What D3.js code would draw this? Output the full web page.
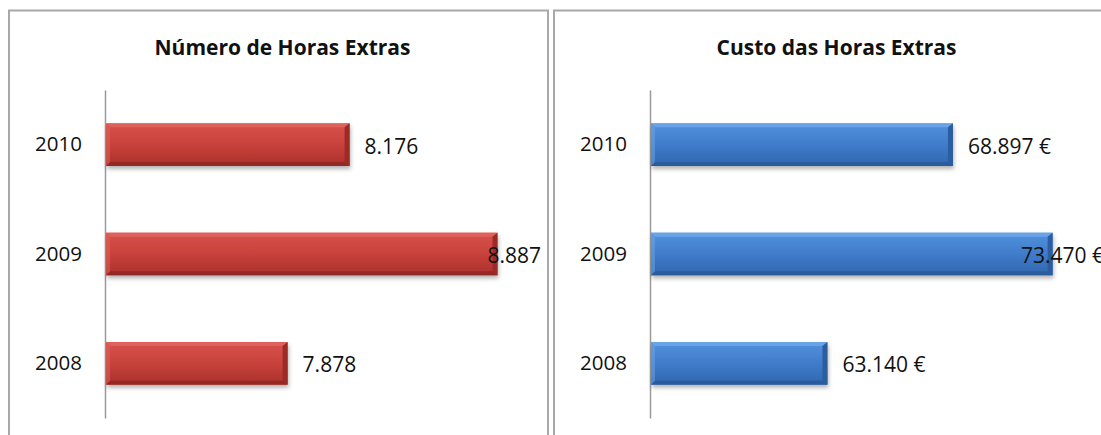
<!DOCTYPE html>
<html><head><meta charset="utf-8">
<script src="https://cdn.jsdelivr.net/npm/d3@7"></script>
<style>
html,body{margin:0;padding:0;background:#fff;}
svg{display:block;}
text{font-family:"Open Sans","Noto Sans",sans-serif;fill:#111;}
</style></head>
<body>
<svg id="chart" width="1101" height="435"></svg>
<script>
// ---- data ----
const years = ["2010", "2009", "2008"];
const hoursValues = [8176, 8887, 7878];
const hoursLabels = ["8.176", "8.887", "7.878"];
const costValues = [68897, 73470, 63140];
const costLabels = ["68.897 €", "73.470 €", "63.140 €"];
const titles = ["Número de Horas Extras", "Custo das Horas Extras"];
const hoursDomain = [7000, 9000];
const costDomain = [55000, 75000];

const svg = d3.select("#chart");
svg.append("rect").attr("width", 1101).attr("height", 435).attr("fill", "#fff");

const defs = svg.append("defs");
const f = defs.append("filter").attr("id", "shadow").attr("x", "-5%").attr("y", "-20%").attr("width", "112%").attr("height", "160%");
f.append("feDropShadow").attr("dx", 1).attr("dy", 3).attr("stdDeviation", 2).attr("flood-color", "#000").attr("flood-opacity", 0.3);

function grad(id, stops) {
  const g = defs.append("linearGradient").attr("id", id).attr("x1", 0).attr("y1", 0).attr("x2", 0).attr("y2", 1);
  stops.forEach(s => g.append("stop").attr("offset", s[0]).attr("stop-color", s[1]));
}
grad("gRed", [[0, "#d8524c"], [0.5, "#c8423c"], [1, "#aa302b"]]);
grad("gBlue", [[0, "#5391dc"], [0.5, "#3f7ccb"], [1, "#2f66ad"]]);

const panels = [
  {left: 9, right: 548, axisX: 105, axisEnd: 521, values: hoursValues, labels: hoursLabels, domain: hoursDomain,
   title: titles[0], fill: "url(#gRed)", light: "#e0645e", dark: "#8f2522", side: "#9c2a26"},
  {left: 554, right: 1111, axisX: 650, axisEnd: 1086, values: costValues, labels: costLabels, domain: costDomain,
   title: titles[1], fill: "url(#gBlue)", light: "#6ea6ea", dark: "#285896", side: "#2c5e9f"}
];

panels.forEach(p => {
  const g = svg.append("g");
  g.append("rect").attr("x", p.left).attr("y", 10.5).attr("width", p.right - p.left).attr("height", 440)
    .attr("fill", "none").attr("stroke", "#a8a8a8").attr("stroke-width", 2);

  const x = d3.scaleLinear().domain(p.domain).range([p.axisX, p.axisEnd]);
  const y = d3.scaleBand().domain(years).range([90, 418]).paddingInner(0.61).paddingOuter(0.305);

  g.append("text").attr("x", (p.left + p.right) / 2 + 4).attr("y", 47).attr("text-anchor", "middle")
    .attr("dominant-baseline", "central").attr("font-weight", "bold").attr("font-size", 21)
    .text(p.title);

  const ax = g.append("g").attr("transform", `translate(${p.axisX},0)`)
    .call(d3.axisLeft(y).tickSize(0).tickPadding(23));
  ax.select(".domain").attr("stroke", "#9a9a9a").attr("stroke-width", 1.5);
  ax.selectAll("text").attr("font-size", 20.5).attr("fill", "#111")
    .style("font-family", '"Open Sans","Noto Sans",sans-serif');

  const data = years.map((yr, i) => ({yr, v: p.values[i], lab: p.labels[i]}));
  const bars = g.selectAll("g.bar").data(data).join("g").attr("class", "bar");
  bars.each(function(d) {
    const b = d3.select(this);
    const x0 = x(p.domain[0]) + 1, x1 = x(d.v), y0 = y(d.yr), y1 = y(d.yr) + y.bandwidth();
    const bv = 5;
    b.append("rect").attr("x", x0).attr("y", y0).attr("width", x1 - x0).attr("height", y1 - y0)
      .attr("fill", p.fill).attr("filter", "url(#shadow)");
    b.append("polygon").attr("points", [[x0, y0], [x1, y0], [x1 - bv, y0 + 4], [x0 + 4, y0 + 4]].join(" "))
      .attr("fill", p.light).attr("opacity", 0.85);
    b.append("polygon").attr("points", [[x0, y1], [x1, y1], [x1 - bv, y1 - 4], [x0 + 4, y1 - 4]].join(" "))
      .attr("fill", p.dark).attr("opacity", 0.8);
    b.append("polygon").attr("points", [[x1, y0], [x1, y1], [x1 - bv, y1 - 4], [x1 - bv, y0 + 4]].join(" "))
      .attr("fill", p.side);
    b.append("polygon").attr("points", [[x0, y0], [x0, y1], [x0 + 4, y1 - 4], [x0 + 4, y0 + 4]].join(" "))
      .attr("fill", p.light).attr("opacity", 0.5);
    const t = b.append("text").attr("y", (y0 + y1) / 2 + 1).attr("dominant-baseline", "central")
      .attr("font-size", 21).text(d.lab);
    const w = t.node().getComputedTextLength();
    t.attr("x", Math.min(x1 + 15, p.right - 7 - w));
  });
});
</script>
</body></html>
